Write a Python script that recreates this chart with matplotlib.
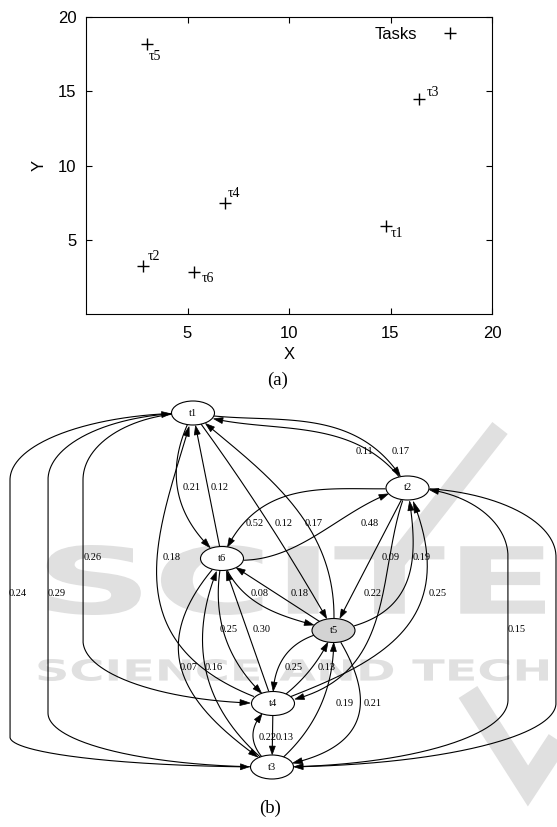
import numpy as np
import matplotlib
matplotlib.use("Agg")
import matplotlib.pyplot as plt
from matplotlib.patches import Ellipse, Polygon, PathPatch
from matplotlib.textpath import TextPath
from matplotlib.font_manager import FontProperties
from matplotlib.path import Path

plt.rcParams["font.family"] = ["Liberation Sans", "DejaVu Sans"]
SERIF = ["Liberation Serif", "DejaVu Serif"]

# ---- (a) task positions ----
task_labels = ["τ1", "τ2", "τ3", "τ4", "τ5", "τ6"]
task_x = [14.8, 2.8, 16.4, 6.85, 3.0, 5.3]
task_y = [5.95, 3.2, 14.5, 7.45, 18.2, 2.8]
x_ticks = [5, 10, 15, 20]
y_ticks = [5, 10, 15, 20]

# ---- (b) communication graph ----
node_names = ["t1", "t2", "t3", "t4", "t5", "t6"]
edge_src = ["t2", "t1", "t1", "t6", "t2", "t1", "t5", "t6", "t2", "t5",
            "t4", "t1", "t1", "t3", "t6", "t5", "t2", "t4", "t3", "t2",
            "t6", "t4", "t6", "t3", "t5", "t4", "t3", "t5", "t3", "t4"]
edge_dst = ["t1", "t2", "t6", "t1", "t6", "t5", "t1", "t2", "t5", "t2",
            "t1", "t4", "t3", "t1", "t5", "t6", "t4", "t2", "t2", "t3",
            "t4", "t6", "t3", "t6", "t4", "t5", "t5", "t3", "t4", "t3"]
edge_weight = [0.11, 0.17, 0.21, 0.12, 0.52, 0.12, 0.17, 0.48, 0.09, 0.19,
               0.18, 0.26, 0.24, 0.29, 0.08, 0.18, 0.22, 0.25, 0.15, None,
               0.25, 0.30, 0.07, 0.16, 0.25, 0.13, 0.19, 0.21, 0.22, 0.13]

# ---- layout of the graph drawing (figure pixels, y downwards) ----
node_px = {"t1": (193, 413), "t2": (407.5, 488), "t3": (272, 767),
           "t4": (273, 703.5), "t5": (333.5, 630.5), "t6": (222, 558.5)}
node_fill = {"t5": "#d3d3d3"}
NODE_W, NODE_H = 43, 24
# ("bend", b_start, b_end) or ("lane", x, h_start, h_end)
edge_route = [("bend", -0.25, 0.0), ("bend", 0.05, 0.3), ("bend", -0.27, -0.27),
              ("bend", 0, 0), ("bend", -0.1, -0.35), ("bend", 0.02, 0.02),
              ("bend", -0.25, -0.1), ("bend", -0.2, 0.05), ("bend", 0, 0),
              ("bend", -0.45, -0.25), ("bend", 0.5, 0.2), ("lane", 83, 67, 63),
              ("lane", 10, 67, 30), ("lane", 48, 54, 67), ("bend", -0.25, -0.1),
              ("bend", 0, 0), ("bend", 0.05, 0.4), ("bend", -0.25, -0.5),
              ("lane", 508, 67, 69), ("lane", 556, 69, 64), ("bend", -0.2, -0.2),
              ("bend", 0, 0), ("bend", -0.5, -0.3), ("bend", 0.26, 0.26),
              ("bend", -0.3, -0.3), ("bend", -0.1, -0.1), ("bend", -0.17, -0.17),
              ("bend", 0.52, 0.52), ("bend", 0.41, 0.41), ("bend", 0, 0)]
edge_label_px = [(364, 451), (401, 451), (192, 487), (220, 487), (255, 523),
                 (284, 523), (314, 523), (370, 523), (391, 558), (422, 558),
                 (172, 558), (93, 558), (18, 593), (57, 593), (260, 593),
                 (300, 594), (373, 594), (438, 594), (517, 630), (570, 630),
                 (229, 630), (262, 630), (189, 667), (214, 667), (294, 667),
                 (327, 667), (345, 703), (373, 703), (268, 737), (285, 737)]
task_label_off = [(4, 8), (5, -10), (8, -6), (3, -10), (2, 13), (8, 6)]

WM_COLOR = "#e0e0e0"
K = 0.552
ARROW_LEN, ARROW_W = 8.5, 6


def bezier(p0, p1, p2, p3, n=150):
    t = np.linspace(0, 1, n)[:, None]
    return (1 - t) ** 3 * p0 + 3 * (1 - t) ** 2 * t * p1 + 3 * (1 - t) * t ** 2 * p2 + t ** 3 * p3


def edge_points(a, b, route):
    a = np.array(a, float)
    b = np.array(b, float)
    if route[0] == "bend":
        d = b - a
        perp = np.array([d[1], -d[0]])
        return bezier(a, a + d / 3 + route[1] * perp, a + 2 * d / 3 + route[2] * perp, b)
    lane, hs, hd = route[1:]
    sg = np.sign(b[1] - a[1])
    top = np.array([lane, a[1] + sg * hs])
    bot = np.array([lane, b[1] - sg * hd])
    c1 = bezier(a, np.array([a[0] + K * (lane - a[0]), a[1]]), top - [0, sg * hs * K], top)
    mid = np.linspace(top, bot, 60)
    c2 = bezier(bot, bot + [0, sg * hd * K], np.array([b[0] + K * (lane - b[0]), b[1]]), b)
    return np.vstack([c1, mid, c2])


def inside(pts, c):
    return ((pts[:, 0] - c[0]) / (NODE_W / 2)) ** 2 + ((pts[:, 1] - c[1]) / (NODE_H / 2)) ** 2 < 1


def watermark_text(axis, s, box, weight="bold"):
    # fit a text outline into box (x0, y0, x1, y1) given in pixel units
    tp = TextPath((0, 0), s, size=50, prop=FontProperties(family="DejaVu Sans", weight=weight))
    v = tp.vertices.copy()
    bx0, by0 = v.min(axis=0)
    bx1, by1 = v.max(axis=0)
    x0, y0, x1, y1 = box
    v[:, 0] = x0 + (v[:, 0] - bx0) / (bx1 - bx0) * (x1 - x0)
    v[:, 1] = y1 - (v[:, 1] - by0) / (by1 - by0) * (y1 - y0)
    axis.add_patch(PathPatch(Path(v, tp.codes), fc=WM_COLOR, ec="none", zorder=0))


fig = plt.figure(figsize=(5.57, 8.27), dpi=100)

# graph panel, drawn in pixel units
gx = fig.add_axes([0, 0, 1, 1])
gx.set_xlim(0, 557)
gx.set_ylim(827, 0)
gx.axis("off")

# faint publisher watermark behind the graph
watermark_text(gx, "SCITE", (35, 545, 545, 615))
watermark_text(gx, "SCIENCE AND TECH", (35, 659, 548, 681))
gx.plot([500, 385], [428, 575], color=WM_COLOR, lw=14, solid_capstyle="butt", zorder=0)
gx.plot([468, 528, 566], [692, 786, 728], color=WM_COLOR, lw=16, solid_joinstyle="miter",
        solid_capstyle="butt", zorder=0)

for s, d, w, route, lp in zip(edge_src, edge_dst, edge_weight, edge_route, edge_label_px):
    pts = edge_points(node_px[s], node_px[d], route)
    pts = pts[~inside(pts, node_px[s]) & ~inside(pts, node_px[d])]
    seg = np.hypot(*np.diff(pts, axis=0).T)
    back = np.cumsum(seg[::-1])
    idx = len(pts) - 2 - np.searchsorted(back, ARROW_LEN)
    tip, base = pts[-1], pts[idx]
    u = (tip - base) / np.linalg.norm(tip - base)
    nrm = np.array([-u[1], u[0]])
    gx.plot(pts[:idx + 1, 0], pts[:idx + 1, 1], color="black", lw=0.8, zorder=2)
    gx.add_patch(Polygon([tip, base + nrm * ARROW_W / 2, base - nrm * ARROW_W / 2],
                         closed=True, fc="black", ec="black", lw=0.5, zorder=2))
    if w is not None:
        gx.text(lp[0], lp[1], f"{w:.2f}", family=SERIF, fontsize=7.5,
                ha="center", va="center", zorder=4)

for name in node_names:
    cx, cy = node_px[name]
    gx.add_patch(Ellipse((cx, cy), NODE_W, NODE_H, fc=node_fill.get(name, "white"),
                         ec="black", lw=0.8, zorder=3))
    gx.text(cx, cy, name, family=SERIF, fontsize=7.5, ha="center", va="center", zorder=4)

gx.text(278, 380, "(a)", family=SERIF, fontsize=13.5, ha="center", va="center")
gx.text(270, 808, "(b)", family=SERIF, fontsize=13.5, ha="center", va="center")

# scatter panel
ax = fig.add_axes([86 / 557, 1 - 314 / 827, 406 / 557, 297 / 827])
ax.plot(task_x, task_y, linestyle="none", marker="+", ms=9, mew=1, color="black", label="Tasks")
for lab, x, y, off in zip(task_labels, task_x, task_y, task_label_off):
    ax.annotate(lab, (x, y), xytext=(off[0] * 0.72, -off[1] * 0.72), textcoords="offset points",
                family=SERIF, fontsize=10, ha="left", va="center")
ax.set_xlim(0, 20)
ax.set_ylim(0, 20)
ax.set_xticks(x_ticks)
ax.set_yticks(y_ticks)
ax.tick_params(direction="in", top=True, right=True, length=4, labelsize=12)
ax.tick_params(axis="x", pad=9)
ax.tick_params(axis="y", pad=7)
ax.set_xlabel("X", fontsize=12, labelpad=4)
ax.set_ylabel("Y", fontsize=12, labelpad=8)
ax.legend(loc="upper right", bbox_to_anchor=(1 - 20 / 406, 1), markerfirst=False,
          frameon=False, fontsize=12, handlelength=1.5, handletextpad=1.2, borderaxespad=0.2)

fig.savefig("out.png", dpi=100)
